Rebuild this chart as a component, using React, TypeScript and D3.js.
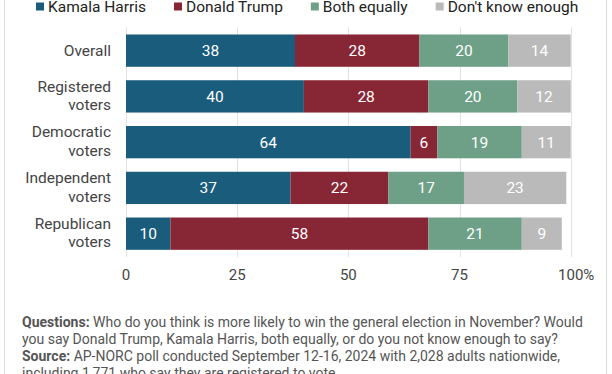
import React, { useRef, useEffect } from 'react';
import * as d3 from 'd3';

// categories (rows) and label lines
const categories = ['Overall', 'Registered voters', 'Democratic voters', 'Independent voters', 'Republican voters'];
const categoryLines = [['Overall'], ['Registered', 'voters'], ['Democratic', 'voters'], ['Independent', 'voters'], ['Republican', 'voters']];

// series
const seriesNames = ['Kamala Harris', 'Donald Trump', 'Both equally', "Don't know enough"];
const harris = [38, 40, 64, 37, 10];
const trump = [28, 28, 6, 22, 58];
const both = [20, 20, 19, 17, 21];
const dontKnow = [14, 12, 11, 23, 9];
const seriesColors = ['#1a5c7b', '#872634', '#6da086', '#bababa'];

const tickValues = [0, 25, 50, 75, 100];

const noteLines = [
    ['Questions:', ' Who do you think is more likely to win the general election in November? Would'],
    ['', 'you say Donald Trump, Kamala Harris, both equally, or do you not know enough to say?'],
    ['Source:', ' AP-NORC poll conducted September 12-16, 2024 with 2,028 adults nationwide,'],
    ['', 'including 1,771 who say they are registered to vote.'],
];

const width = 612, height = 374;
const font = 'Roboto, sans-serif';

const App = () => {
    const ref = useRef(null);

    useEffect(() => {
        d3.select(ref.current).selectAll('*').remove();
        const svg = d3.select(ref.current);

        var xScale = d3.scaleLinear().domain([0, 100]).range([126, 570.7]);
        var yScale = d3.scaleBand()
            .domain(categories)
            .range([27.3, 257])
            .paddingInner(0.294)
            .paddingOuter(0.157);

        var rows = categories.map(function (c, i) {
            return { cat: c, values: [harris[i], trump[i], both[i], dontKnow[i]] };
        });

        // frame lines left/right
        svg.append('line').attr('x1', 4.5).attr('x2', 4.5).attr('y1', 0).attr('y2', height)
            .attr('stroke', '#dddddd').attr('stroke-width', 1);
        svg.append('line').attr('x1', 606.5).attr('x2', 606.5).attr('y1', 0).attr('y2', height)
            .attr('stroke', '#dddddd').attr('stroke-width', 1);

        // gridlines
        svg.append('g').selectAll('line')
            .data(tickValues)
            .enter()
            .append('line')
            .attr('x1', function (d) { return Math.round(xScale(d)) + 0.5; })
            .attr('x2', function (d) { return Math.round(xScale(d)) + 0.5; })
            .attr('y1', yScale.range()[0])
            .attr('y2', yScale.range()[1])
            .attr('stroke', '#e2e2e2');

        // bars
        var rowG = svg.append('g').selectAll('g')
            .data(rows)
            .enter()
            .append('g');

        rowG.each(function (row) {
            var g = d3.select(this);
            var acc = 0;
            var segs = row.values.map(function (v, k) {
                var s = { x0: acc, x1: acc + v, v: v, k: k };
                acc += v;
                return s;
            });
            g.selectAll('rect')
                .data(segs)
                .enter()
                .append('rect')
                .attr('x', function (d) { return xScale(d.x0); })
                .attr('width', function (d) { return xScale(d.x1) - xScale(d.x0); })
                .attr('y', yScale(row.cat))
                .attr('height', yScale.bandwidth())
                .style('fill', function (d) { return seriesColors[d.k]; });
            g.selectAll('text')
                .data(segs)
                .enter()
                .append('text')
                .attr('x', function (d) { return (xScale(d.x0) + xScale(d.x1)) / 2; })
                .attr('y', yScale(row.cat) + yScale.bandwidth() / 2 + 5.5)
                .attr('text-anchor', 'middle')
                .style('font-family', font)
                .style('font-size', '15.5px')
                .style('fill', '#ffffff')
                .text(function (d) { return d.v; });
        });

        // category labels
        categories.forEach(function (c, i) {
            var lines = categoryLines[i];
            var cy = yScale(c) + yScale.bandwidth() / 2;
            var t = svg.append('text')
                .attr('text-anchor', 'end')
                .style('font-family', font)
                .style('font-size', '15.5px')
                .style('fill', '#444444');
            if (lines.length === 1) {
                t.append('tspan').attr('x', 111).attr('y', cy + 5.5).text(lines[0]);
            } else {
                t.append('tspan').attr('x', 111).attr('y', cy - 4.7).text(lines[0]);
                t.append('tspan').attr('x', 111).attr('y', cy + 13.6).text(lines[1]);
            }
        });

        // x tick labels
        var ticks = svg.append('g');
        tickValues.forEach(function (v) {
            var t = ticks.append('text')
                .attr('x', xScale(v))
                .attr('y', 280)
                .attr('text-anchor', 'middle')
                .style('font-family', font)
                .style('font-size', '15px')
                .style('fill', '#444444')
                .text(v);
            if (v === 100) {
                var w = t.node().getComputedTextLength();
                ticks.append('text')
                    .attr('x', xScale(v) + w / 2)
                    .attr('y', 280)
                    .style('font-family', font)
                    .style('font-size', '15px')
                    .style('fill', '#444444')
                    .text('%');
            }
        });

        // legend (top is cropped in the original, kept a touch lower here)
        var lx = 36;
        var legend = svg.append('g');
        seriesNames.forEach(function (name, k) {
            legend.append('rect')
                .attr('x', lx).attr('y', 2.5)
                .attr('width', 8).attr('height', 8)
                .style('fill', seriesColors[k]);
            var t = legend.append('text')
                .attr('x', lx + 12)
                .attr('y', 12)
                .style('font-family', font)
                .style('font-size', '15.5px')
                .style('fill', '#222222')
                .text(name);
            lx += 12 + t.node().getComputedTextLength() + 28;
        });

        // footnote
        var note = svg.append('g');
        noteLines.forEach(function (line, i) {
            var t = note.append('text')
                .attr('x', 22)
                .attr('y', 327 + i * 17)
                .style('font-family', font)
                .style('font-size', '14px')
                .style('fill', '#555555');
            if (line[0]) {
                t.append('tspan').style('font-weight', 'bold').text(line[0]);
            }
            t.append('tspan').text(line[1]);
        });
    }, []);

    return (
        <svg
            width={width}
            height={height}
            viewBox={'0 0 ' + width + ' ' + height}
            style={{ position: 'absolute', left: 0, top: 0, background: '#ffffff' }}
            ref={ref}
        ></svg>
    );
};

export default App;
